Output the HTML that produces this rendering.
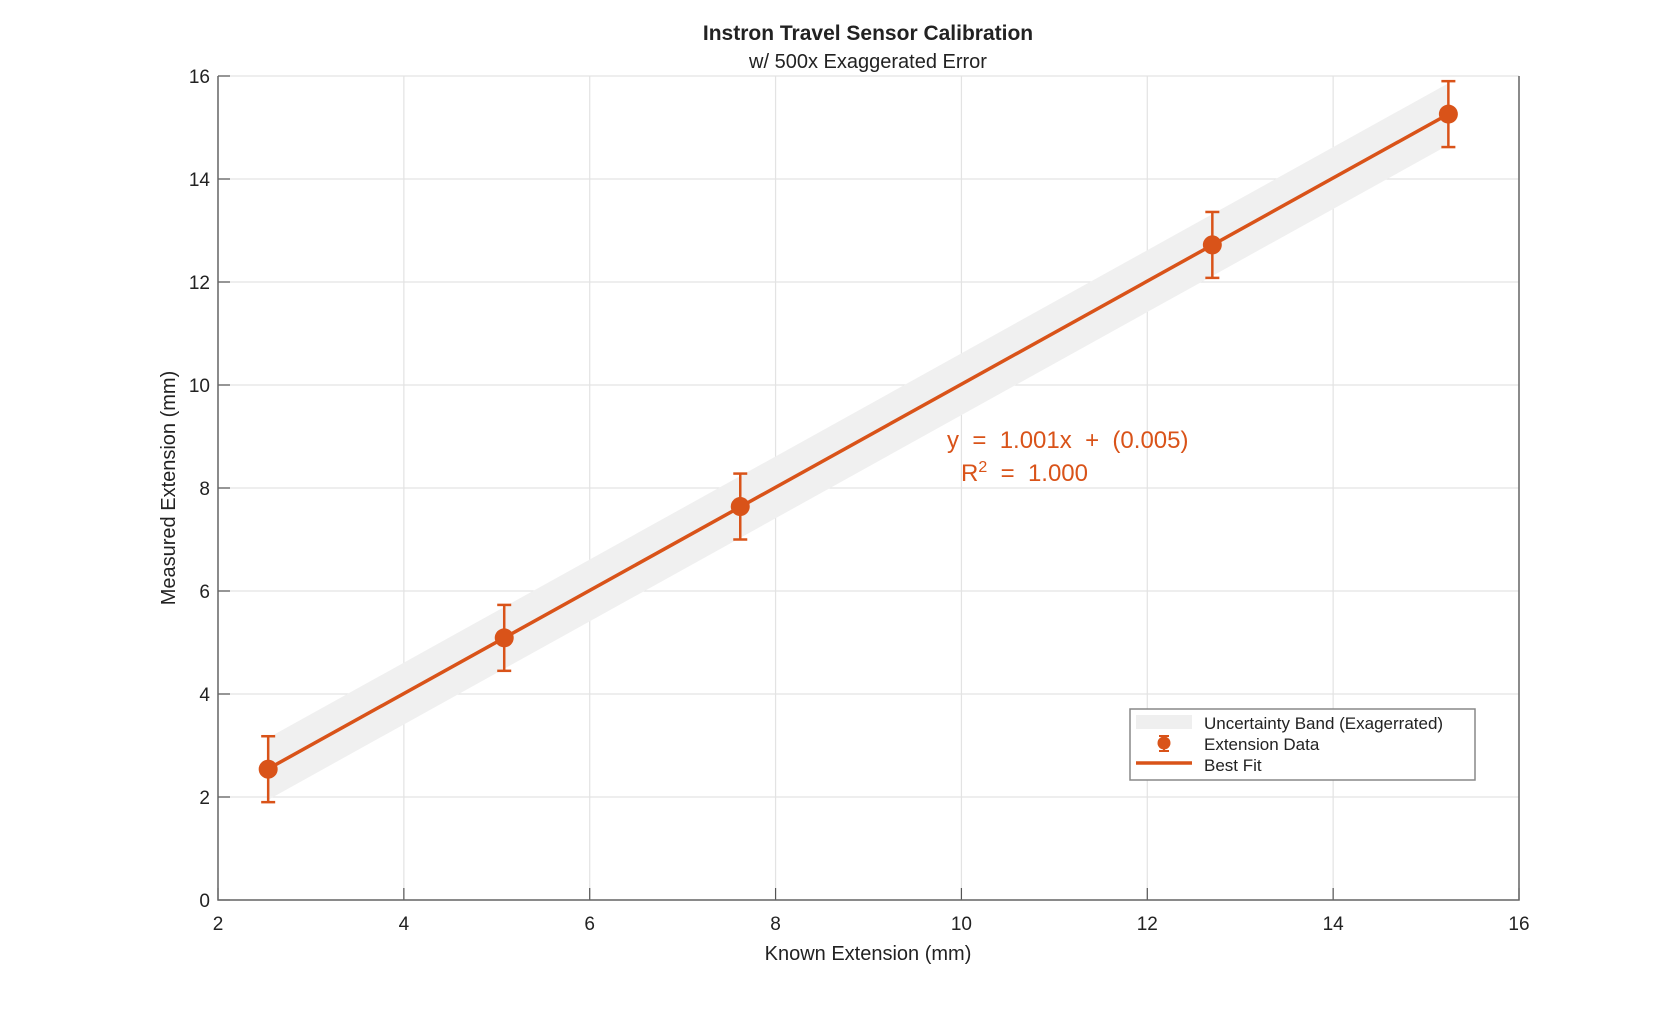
<!DOCTYPE html>
<html><head><meta charset="utf-8"><style>
body{margin:0;background:#fff;}
svg{display:block;font-family:"Liberation Sans",sans-serif;}
</style></head><body>
<svg id="chart" width="1679" height="1011">
<rect width="1679" height="1011" fill="#fff"/>
<g id="grid"></g><g id="band"></g><g id="fit"></g><g id="pts"></g><g id="axes"></g>
<text x="868" y="40" text-anchor="middle" font-size="21" font-weight="bold" fill="#222">Instron Travel Sensor Calibration</text>
<text x="868" y="68" text-anchor="middle" font-size="20" fill="#222">w/ 500x Exaggerated Error</text>
<text x="868" y="960" text-anchor="middle" font-size="20" fill="#222">Known Extension (mm)</text>
<text transform="translate(175,488) rotate(-90)" text-anchor="middle" font-size="20" fill="#222">Measured Extension (mm)</text>
<text x="947" y="448" font-size="24" fill="#d95319" xml:space="preserve">y  =  1.001x  +  (0.005)</text>
<text x="961" y="481" font-size="24" fill="#d95319" xml:space="preserve">R<tspan dy="-9" font-size="16">2</tspan><tspan dy="9">  =  1.000</tspan></text>
<g transform="translate(-6,-4)">
<rect x="1136" y="713" width="345" height="71" fill="#fff" stroke="#888" stroke-width="1.5"/>
<rect x="1142" y="719" width="56" height="14" fill="#efefef"/>
<text x="1210" y="733" font-size="17" fill="#222">Uncertainty Band (Exagerrated)</text>
<line x1="1170" y1="740" x2="1170" y2="755" stroke="#d95319" stroke-width="2"/>
<circle cx="1170" cy="747" r="6.5" fill="#d95319"/>
<line x1="1165" y1="740" x2="1175" y2="740" stroke="#d95319" stroke-width="2"/>
<line x1="1165" y1="755" x2="1175" y2="755" stroke="#d95319" stroke-width="2"/>
<text x="1210" y="754" font-size="17" fill="#222">Extension Data</text>
<line x1="1142" y1="767" x2="1198" y2="767" stroke="#d95319" stroke-width="3.5"/>
<text x="1210" y="775" font-size="17" fill="#222">Best Fit</text>
</g>
</svg>
<script>
const xKnown=[2.54,5.08,7.62,12.7,15.24];
const yMeas=[2.54,5.09,7.64,12.72,15.26];
const yErr=[0.64,0.64,0.64,0.64,0.64];
const bandHalf=[0.6,0.6,0.6,0.6,0.6];
const xTicks=[2,4,6,8,10,12,14,16];
const yTicks=[0,2,4,6,8,10,12,14,16];
const slope=1.001, intercept=0.005;
const X0=218,X1=1519,Y0=900,Y1=76;
const sx=v=>X0+(v-2)/14*(X1-X0);
const sy=v=>Y0-v/16*(Y0-Y1);
const NS="http://www.w3.org/2000/svg";
function mk(p,t,a){const e=document.createElementNS(NS,t);for(const k in a)e.setAttribute(k,a[k]);document.getElementById(p).appendChild(e);return e;}
xTicks.forEach(t=>{
 const g=mk('grid','line',{x1:sx(t),x2:sx(t),y1:Y1,y2:Y0,stroke:'#e3e3e3','stroke-width':1.2});
 
 
 mk('axes','line',{x1:sx(t),x2:sx(t),y1:Y0,y2:Y0-12,stroke:'#555','stroke-width':1.2});
 const l=mk('axes','text',{x:sx(t),y:Y0+30,'text-anchor':'middle','font-size':19,fill:'#222'});
 l.textContent=t;
 
 
});
yTicks.forEach(t=>{
 const g=mk('grid','line',{x1:X0,x2:X1,y1:sy(t),y2:sy(t),stroke:'#e3e3e3','stroke-width':1.2});
 
 
 mk('axes','line',{x1:X0,x2:X0+12,y1:sy(t),y2:sy(t),stroke:'#555','stroke-width':1.2});
 const l=mk('axes','text',{x:X0-8,y:sy(t)+7,'text-anchor':'end','font-size':19,fill:'#222'});
 l.textContent=t;
 
 
});
mk('axes','path',{d:`M${X0},${Y1}V${Y0}H${X1}V${Y1}`,fill:'none',stroke:'#666','stroke-width':1.5});
const bandTop=xKnown.map((x,i)=>`${sx(x)},${sy(slope*x+intercept+bandHalf[i])}`);
const bandBot=xKnown.map((x,i)=>`${sx(x)},${sy(slope*x+intercept-bandHalf[i])}`).reverse();
const b=mk('band','polygon',{points:bandTop.concat(bandBot).join(' '),fill:'#f0f0f0'});


const xa=xKnown[0],xb=xKnown[xKnown.length-1];
const f=mk('fit','line',{x1:sx(xa),y1:sy(slope*xa+intercept),x2:sx(xb),y2:sy(slope*xb+intercept),stroke:'#d95319','stroke-width':3.5});


xKnown.forEach((x,i)=>{
 const cx=sx(x),y=yMeas[i],e=yErr[i];
 mk('pts','line',{x1:cx,x2:cx,y1:sy(y+e),y2:sy(y-e),stroke:'#d95319','stroke-width':2.5});
 mk('pts','line',{x1:cx-7,x2:cx+7,y1:sy(y+e),y2:sy(y+e),stroke:'#d95319','stroke-width':2.5});
 mk('pts','line',{x1:cx-7,x2:cx+7,y1:sy(y-e),y2:sy(y-e),stroke:'#d95319','stroke-width':2.5});
 const c=mk('pts','circle',{cx:cx,cy:sy(y),r:9.5,fill:'#d95319'});
 
 
});
</script>
</body></html>
